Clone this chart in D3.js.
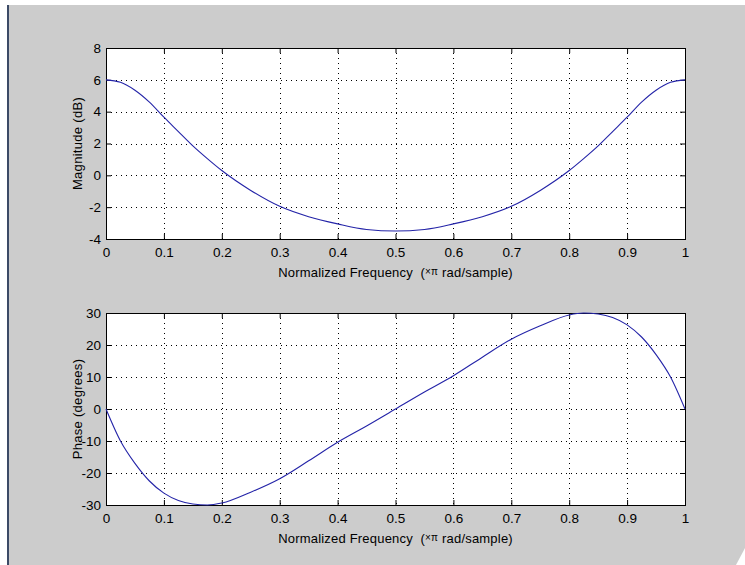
<!DOCTYPE html>
<html>
<head>
<meta charset="utf-8">
<script src="https://cdn.jsdelivr.net/npm/d3@7"></script>
<style>
  body { margin: 0; background: #ffffff; }
  svg { display: block; }
</style>
</head>
<body>
<div id="chart"></div>
<script>
// normalized frequency samples (x pi rad/sample)
const freq = [0, 0.025, 0.05, 0.075, 0.1, 0.125, 0.15, 0.175, 0.2, 0.25, 0.3, 0.35, 0.4, 0.45, 0.5,
  0.55, 0.6, 0.65, 0.7, 0.75, 0.8, 0.825, 0.85, 0.875, 0.9, 0.925, 0.95, 0.975, 1];
const magnitudeDb = [6.0, 5.85, 5.35, 4.6, 3.65, 2.75, 1.85, 1.05, 0.3, -0.95, -1.95, -2.6, -3.05, -3.4, -3.5,
  -3.4, -3.05, -2.6, -1.95, -0.95, 0.3, 1.05, 1.85, 2.75, 3.65, 4.6, 5.35, 5.85, 6.0];
const phaseDeg = [0, -10, -17, -22.5, -26.3, -28.6, -29.7, -30, -29.4, -26, -21.8, -16.2, -10.4, -5.3, 0,
  5.3, 10.4, 16.2, 21.8, 26, 29.4, 30, 29.7, 28.6, 26.3, 22.5, 17, 10, 0];

const xTicks = [0, 0.1, 0.2, 0.3, 0.4, 0.5, 0.6, 0.7, 0.8, 0.9, 1];
const magTicks = [-4, -2, 0, 2, 4, 6, 8];
const phaseTicks = [-30, -20, -10, 0, 10, 20, 30];

const width = 745;
const height = 565;
const font = "'Liberation Sans', Arial, sans-serif";

const svg = d3.select("#chart")
  .append("svg")
  .attr("width", width)
  .attr("height", height);

// figure background
svg.append("rect").attr("width", width).attr("height", height).attr("fill", "#ffffff");
svg.append("rect").attr("x", 7).attr("y", 5).attr("width", width - 7).attr("height", height - 5).attr("fill", "#cccccc");
svg.append("rect").attr("x", 7).attr("y", 5).attr("width", 2).attr("height", height - 5).attr("fill", "#3c4a66");
svg.append("path")
  .attr("d", `M${width},${height - 17} L${width},${height} L${width - 9},${height} Z`)
  .attr("fill", "#ffffff");

function panel(top, bottom, yDomain, yTicks, values, yLabel) {
  const left = 106, right = 685;
  const x = d3.scaleLinear().domain([0, 1]).range([left, right]);
  const y = d3.scaleLinear().domain(yDomain).range([bottom, top]);
  const g = svg.append("g");

  g.append("rect")
    .attr("x", left).attr("y", top)
    .attr("width", right - left).attr("height", bottom - top)
    .attr("fill", "#ffffff");

  // dotted grid
  g.selectAll(".vgrid")
    .data(xTicks.slice(1, -1))
    .enter().append("line")
    .attr("x1", (d) => Math.round(x(d)) + 0.5).attr("x2", (d) => Math.round(x(d)) + 0.5)
    .attr("y1", top).attr("y2", bottom)
    .attr("stroke", "#000").attr("stroke-width", 1).attr("stroke-dasharray", "1,4");
  g.selectAll(".hgrid")
    .data(yTicks.slice(1, -1))
    .enter().append("line")
    .attr("y1", (d) => Math.round(y(d)) + 0.5).attr("y2", (d) => Math.round(y(d)) + 0.5)
    .attr("x1", left).attr("x2", right)
    .attr("stroke", "#000").attr("stroke-width", 1).attr("stroke-dasharray", "1,4");

  // axes with inward ticks on all sides, plain hyphen minus like the original
  const plain = (d) => String(d);
  const style = (a) => {
    a.select(".domain").remove();
    a.selectAll("text").style("font-family", font).style("font-size", "13.5px").attr("fill", "#000");
    a.selectAll("line").attr("stroke", "#000");
  };
  g.append("g").attr("transform", `translate(0,${bottom})`)
    .call(d3.axisBottom(x).tickValues(xTicks).tickFormat(plain).tickSizeInner(-5).tickPadding(8))
    .call(style);
  g.append("g").attr("transform", `translate(0,${top})`)
    .call(d3.axisTop(x).tickValues(xTicks).tickSizeInner(-5).tickFormat(""))
    .call(style);
  g.append("g").attr("transform", `translate(${left},0)`)
    .call(d3.axisLeft(y).tickValues(yTicks).tickFormat(plain).tickSizeInner(-5).tickPadding(5))
    .call(style);
  g.append("g").attr("transform", `translate(${right},0)`)
    .call(d3.axisRight(y).tickValues(yTicks).tickSizeInner(-5).tickFormat(""))
    .call(style);

  g.append("rect")
    .attr("x", left + 0.5).attr("y", top + 0.5)
    .attr("width", right - left).attr("height", bottom - top)
    .attr("fill", "none").attr("stroke", "#000").attr("stroke-width", 1);

  const line = d3.line()
    .x((d, i) => x(freq[i]))
    .y((d) => y(d))
    .curve(d3.curveMonotoneX);
  g.append("path")
    .datum(values)
    .attr("d", line)
    .attr("fill", "none")
    .attr("stroke", "#2424a8")
    .attr("stroke-width", 1.1);

  g.append("text")
    .attr("transform", `translate(82,${(top + bottom) / 2}) rotate(-90)`)
    .attr("text-anchor", "middle")
    .style("font-family", font).style("font-size", "13px")
    .style("letter-spacing", "0.3px")
    .text(yLabel);

  const xl = g.append("text")
    .attr("x", (left + right) / 2).attr("y", bottom + 38)
    .attr("text-anchor", "middle")
    .style("font-family", font).style("font-size", "13px")
    .style("letter-spacing", "0.2px")
    .style("white-space", "pre");
  xl.append("tspan").text("Normalized Frequency  (");
  xl.append("tspan").style("font-size", "10px").attr("dy", -2).text("×π");
  xl.append("tspan").attr("dy", 2).text(" rad/sample)");
}

panel(48, 239, [-4, 8], magTicks, magnitudeDb, "Magnitude (dB)");
panel(313, 505, [-30, 30], phaseTicks, phaseDeg, "Phase (degrees)");
</script>
</body>
</html>
